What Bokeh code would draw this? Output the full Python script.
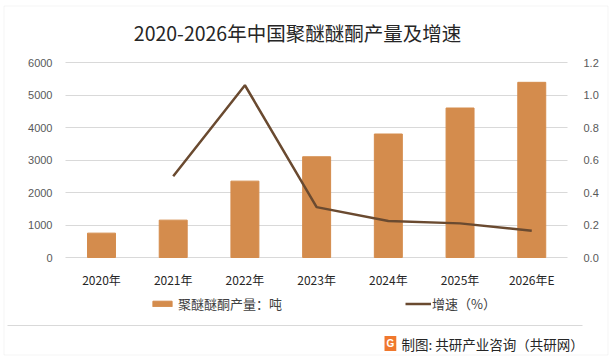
from bokeh.plotting import figure
from bokeh.models import (Range1d, LinearAxis, FixedTicker, NumeralTickFormatter, Label,
                          BoxAnnotation, Legend, LegendItem, Grid)
from bokeh.embed import file_html
from bokeh.resources import INLINE

years = ["2020年", "2021年", "2022年", "2023年", "2024年", "2025年", "2026年E"]
output_t = [750, 1150, 2350, 3100, 3800, 4600, 5390]
rate_years = ["2021年", "2022年", "2023年", "2024年", "2025年", "2026年E"]
rate = [0.50, 1.06, 0.31, 0.225, 0.21, 0.165]
left_ticks = [0, 1000, 2000, 3000, 4000, 5000, 6000]
right_ticks = [0.0, 0.2, 0.4, 0.6, 0.8, 1.0, 1.2]

title_text = "2020-2026年中国聚醚醚酮产量及增速"
bar_label = "聚醚醚酮产量：吨"
line_label = "增速（%）"
source_text = "制图: 共研产业咨询（共研网）"

CJK = "Noto Sans CJK SC"
BAR = "#D48C4D"
LINE = "#6A4A30"
GRID = "#D9D9D9"
TXT = "#595959"

# canvas geometry (pixels): plot area 65..567 x, 62..257 y
W, H = 612, 357
X0, UX = 101.0, 71.71          # px of first category centre, px per category
Y0, UY = 257.0, 32.5 / 1000.0  # px of value 0, px per unit
RSCALE = 1.2 / 6000.0

def px2x(px):
    return (px - X0) / UX

def py2y(py):
    return (Y0 - py) / UY

idx = list(range(len(years)))
ridx = [years.index(y) for y in rate_years]

p = figure(width=W, height=H, output_backend="svg", toolbar_location=None,
           x_range=Range1d(px2x(0), px2x(W)), y_range=Range1d(py2y(H), py2y(0)),
           x_axis_type=None, y_axis_type=None, min_border=0)
p.outline_line_color = None
p.border_fill_color = "white"
p.background_fill_color = "white"
p.extra_y_ranges = {"rate": Range1d(py2y(H) * RSCALE, py2y(0) * RSCALE)}

# gridlines limited to plot area
xl, xr = px2x(65), px2x(567)
try:
    g = Grid(dimension=1, ticker=FixedTicker(ticks=left_ticks), grid_line_color=GRID,
             cross_bounds=(xl, xr))
    p.add_layout(g, "center")
except Exception:
    p.segment(x0=[xl] * len(left_ticks), x1=[xr] * len(left_ticks),
              y0=left_ticks, y1=left_ticks, line_color=GRID, line_width=1)

bars = p.vbar(x=idx, top=output_t, width=0.39, color=BAR)
ln = p.line(x=ridx, y=rate, y_range_name="rate", line_color=LINE, line_width=2.5)

ax_l = LinearAxis(ticker=FixedTicker(ticks=left_ticks), fixed_location=xl)
ax_r = LinearAxis(y_range_name="rate", ticker=FixedTicker(ticks=right_ticks),
                  formatter=NumeralTickFormatter(format="0.0"), fixed_location=xr)
ax_b = LinearAxis(ticker=FixedTicker(ticks=idx), fixed_location=0,
                  major_label_overrides={i: s for i, s in zip(idx, years)})
for ax in (ax_l, ax_r):
    ax.major_label_text_font = "Liberation Sans"
    ax.major_label_text_font_size = "11px"
    ax.major_label_text_color = TXT
ax_l.major_label_standoff = 7
ax_r.major_label_standoff = 10
ax_b.major_label_text_font = CJK
ax_b.major_label_text_font_size = "12px"
ax_b.major_label_text_color = "#262626"
ax_b.major_label_standoff = 7
for ax in (ax_l, ax_r, ax_b):
    ax.axis_line_color = None
    ax.major_tick_line_color = None
    ax.minor_tick_line_color = None
p.add_layout(ax_l, "left")
p.add_layout(ax_r, "right")
p.add_layout(ax_b, "below")

# title
p.add_layout(Label(x=px2x(297), y=py2y(32), text=title_text, text_font=CJK,
                   text_font_size="19.5px", text_color="#262626",
                   text_align="center", text_baseline="middle"))

# legend
common = dict(orientation="horizontal", glyph_height=7, label_height=7, padding=0, margin=0,
              border_line_color=None, background_fill_alpha=0, label_text_font=CJK,
              label_text_font_size="13px", label_text_color="#404040")
leg1 = Legend(items=[LegendItem(label=bar_label, renderers=[bars])],
              location=(150, H - 313), glyph_width=24, label_standoff=4, **common)
leg2 = Legend(items=[LegendItem(label=line_label, renderers=[ln])],
              location=(405, H - 313), glyph_width=26, label_standoff=1, **common)
p.add_layout(leg1, "center")
p.add_layout(leg2, "center")

# separator and outer frame
p.add_layout(BoxAnnotation(left=px2x(7), right=px2x(582), top=py2y(324.5), bottom=py2y(325.5),
                           fill_color=GRID, fill_alpha=1, line_color=None))
p.add_layout(BoxAnnotation(left=px2x(3.5), right=px2x(607.5), top=py2y(5.5),
                           bottom=py2y(354.5), fill_alpha=0, line_color=GRID, line_width=1))

# source footer
p.add_layout(Label(x=px2x(384), y=py2y(343), text="G", text_font="Liberation Sans",
                   text_font_style="bold", text_font_size="10px", text_color="white",
                   background_fill_color="#F0782D", text_align="left",
                   text_baseline="middle", padding=2))
p.add_layout(Label(x=px2x(401), y=py2y(343), text=source_text, text_font=CJK,
                   text_font_size="13.5px", text_color="#262626",
                   text_align="left", text_baseline="middle"))

open("out.html", "w").write(file_html(p, INLINE))
